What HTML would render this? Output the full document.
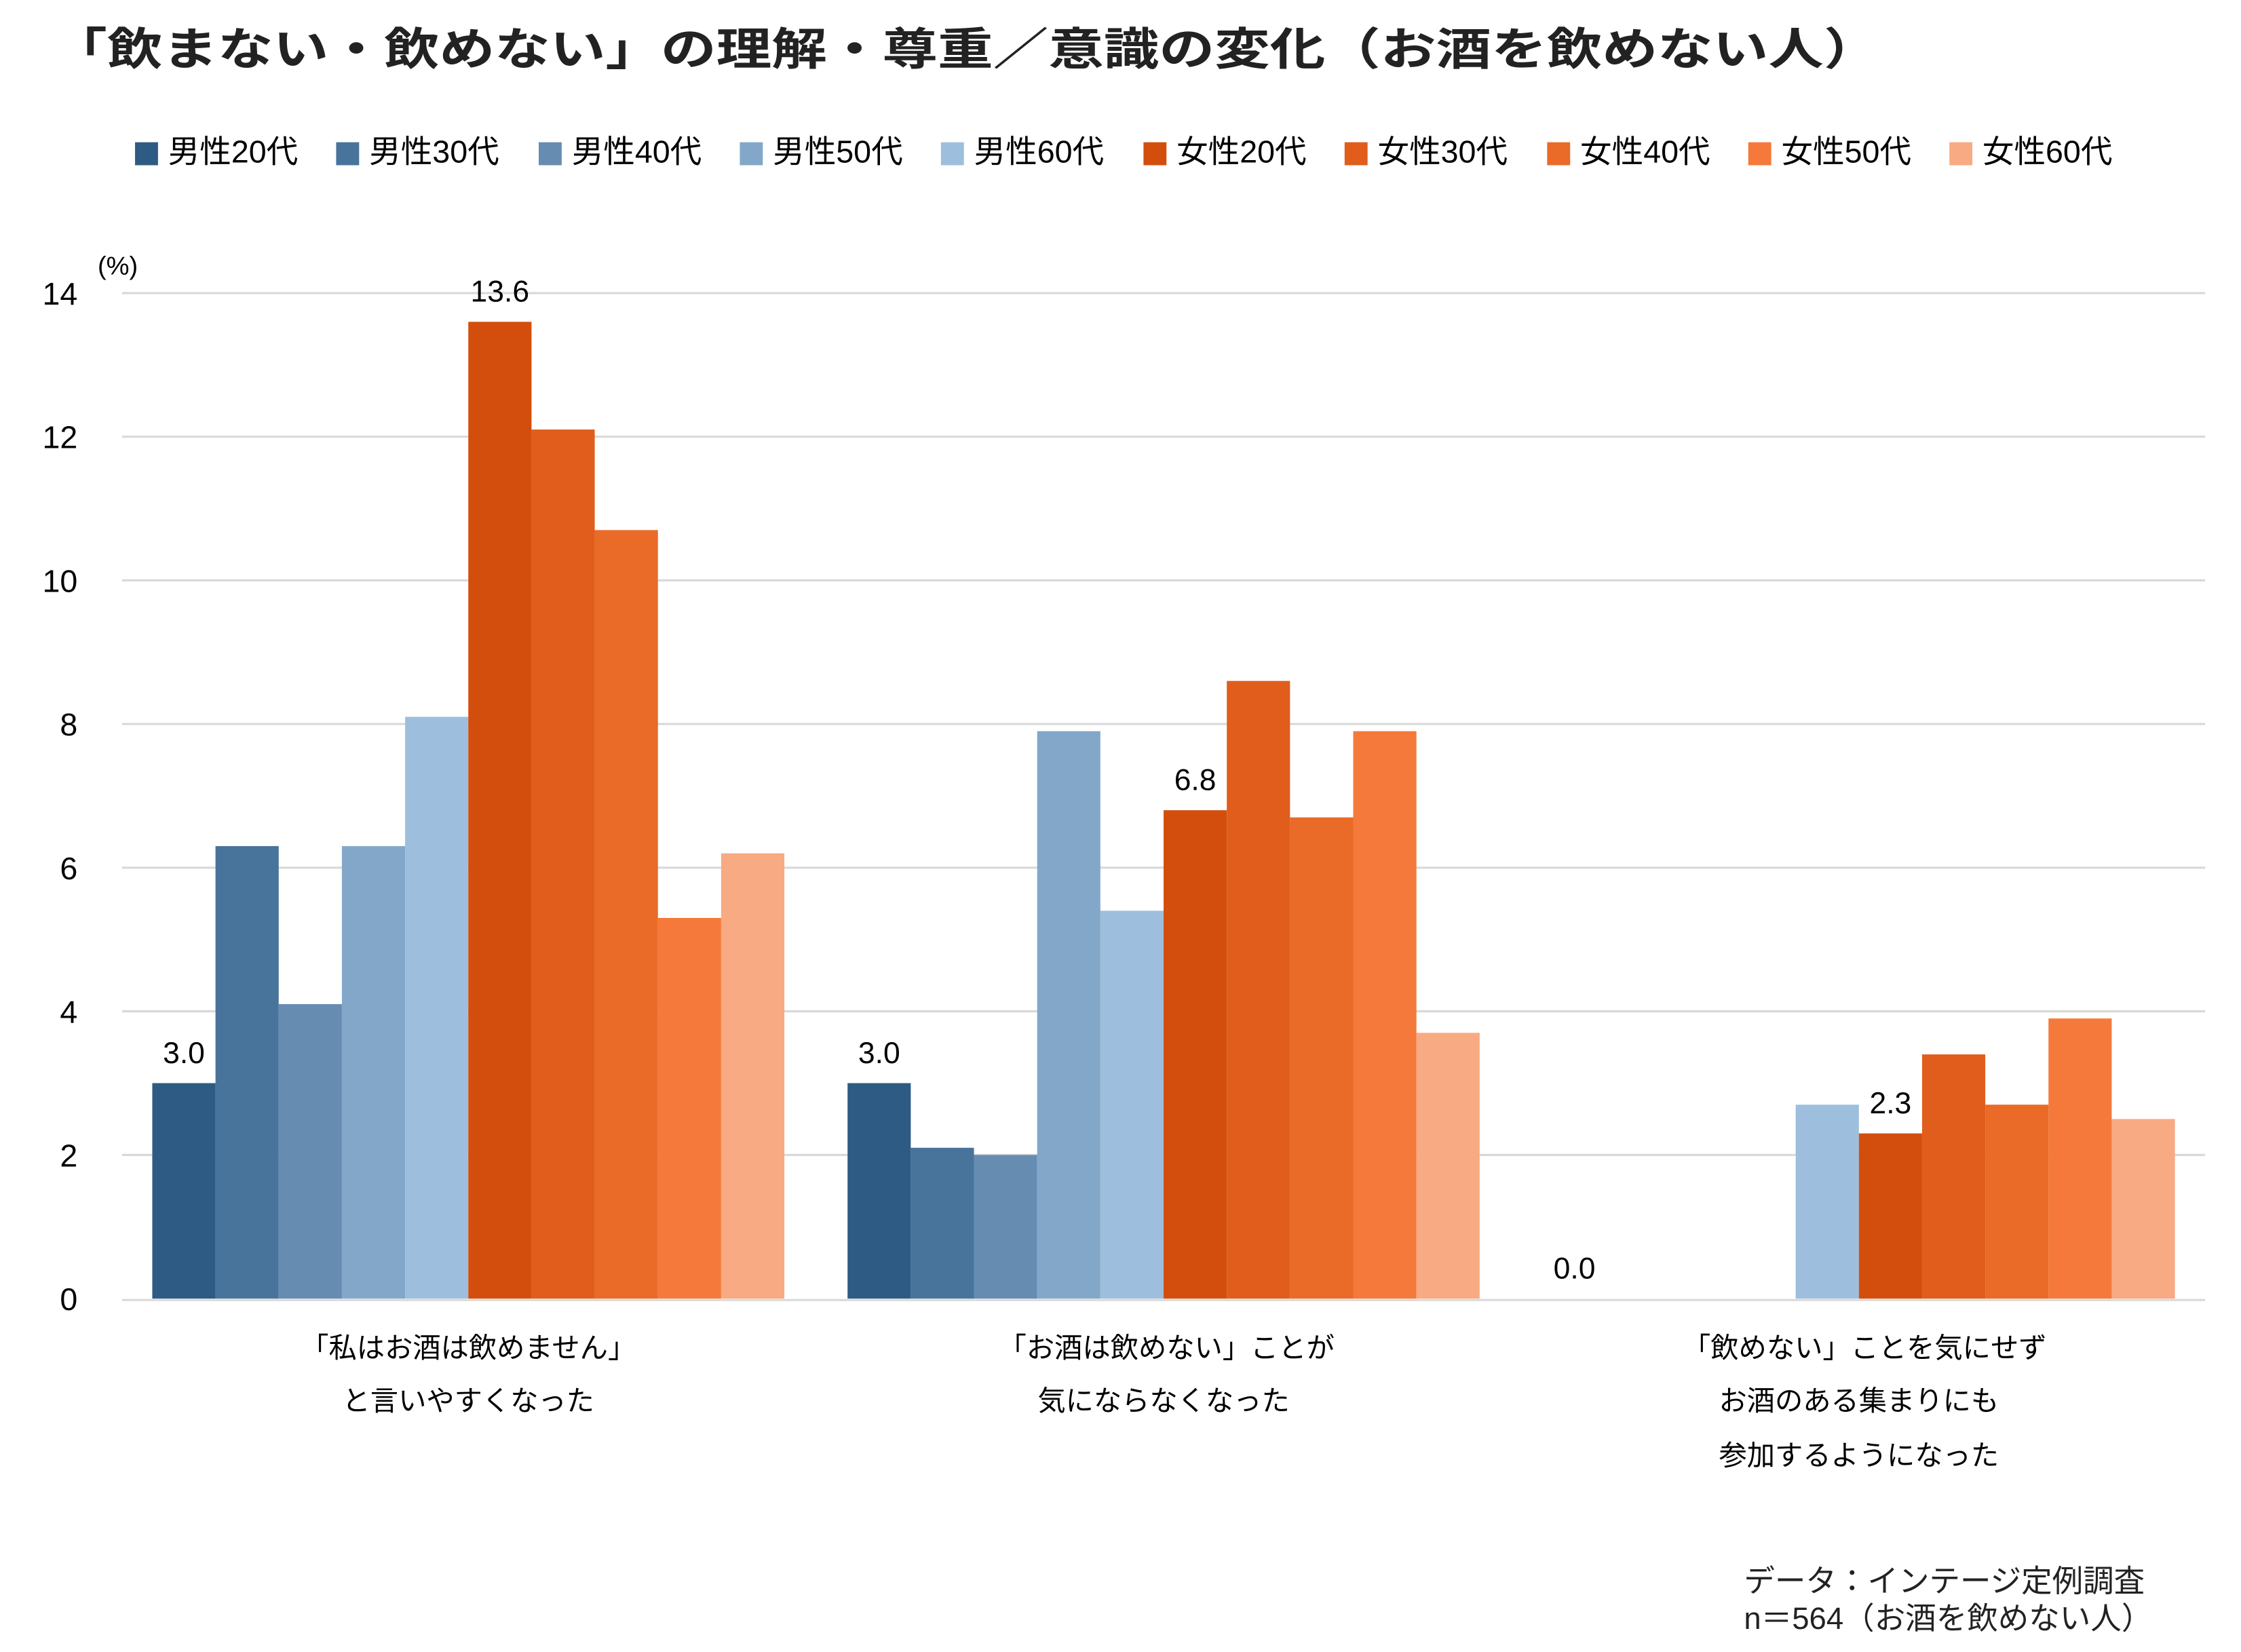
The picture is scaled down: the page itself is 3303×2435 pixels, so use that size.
<!DOCTYPE html>
<html><head><meta charset="utf-8"><style>
html,body{margin:0;padding:0;background:#fff;}
svg{display:block;}
text{font-family:"Liberation Sans","Noto Sans CJK JP",sans-serif;fill:#000;}
</style></head><body>
<svg width="3303" height="2435" viewBox="0 0 1560 1150" xmlns="http://www.w3.org/2000/svg">
<rect width="1560" height="1150" fill="#fff"/>
<text x="36" y="45" font-size="31" font-weight="bold" fill="#222" style="fill:#222" textLength="1272" lengthAdjust="spacingAndGlyphs">「飲まない・飲めない」の理解・尊重／意識の変化（お酒を飲めない人）</text>
<g font-size="22">
<rect x="94" y="99" width="16" height="16" fill="#2e5b84"/><text x="117" y="113">男性20代</text>
<rect x="234" y="99" width="16" height="16" fill="#48739a"/><text x="257" y="113">男性30代</text>
<rect x="375" y="99" width="16" height="16" fill="#668cb1"/><text x="398" y="113">男性40代</text>
<rect x="515" y="99" width="16" height="16" fill="#82a7c9"/><text x="538" y="113">男性50代</text>
<rect x="655" y="99" width="16" height="16" fill="#9dbfdd"/><text x="678" y="113">男性60代</text>
<rect x="796" y="99" width="16" height="16" fill="#d34e0d"/><text x="819" y="113">女性20代</text>
<rect x="936" y="99" width="16" height="16" fill="#e05d1c"/><text x="959" y="113">女性30代</text>
<rect x="1077" y="99" width="16" height="16" fill="#ea6a28"/><text x="1100" y="113">女性40代</text>
<rect x="1217" y="99" width="16" height="16" fill="#f5793a"/><text x="1240" y="113">女性50代</text>
<rect x="1357" y="99" width="16" height="16" fill="#f8aa82"/><text x="1380" y="113">女性60代</text>
</g>
<g stroke="#d9d9d9" stroke-width="1.5">
<line x1="85" x2="1535" y1="204" y2="204"/><line x1="85" x2="1535" y1="304" y2="304"/>
<line x1="85" x2="1535" y1="404" y2="404"/><line x1="85" x2="1535" y1="504" y2="504"/>
<line x1="85" x2="1535" y1="604" y2="604"/><line x1="85" x2="1535" y1="704" y2="704"/>
<line x1="85" x2="1535" y1="804" y2="804"/><line x1="85" x2="1535" y1="905" y2="905"/>
</g>
<g font-size="22" text-anchor="end">
<text x="54" y="212">14</text><text x="54" y="312">12</text><text x="54" y="412">10</text>
<text x="54" y="512">8</text><text x="54" y="612">6</text><text x="54" y="712">4</text>
<text x="54" y="812">2</text><text x="54" y="912">0</text>
</g>
<text x="68" y="191" font-size="18">(%)</text>
<g>
<rect x="106" y="754" width="44" height="150" fill="#2e5b84"/>
<rect x="150" y="589" width="44" height="315" fill="#48739a"/>
<rect x="194" y="699" width="44" height="205" fill="#668cb1"/>
<rect x="238" y="589" width="44" height="315" fill="#82a7c9"/>
<rect x="282" y="499" width="44" height="405" fill="#9dbfdd"/>
<rect x="326" y="224" width="44" height="680" fill="#d34e0d"/>
<rect x="370" y="299" width="44" height="605" fill="#e05d1c"/>
<rect x="414" y="369" width="44" height="535" fill="#ea6a28"/>
<rect x="458" y="639" width="44" height="265" fill="#f5793a"/>
<rect x="502" y="594" width="44" height="310" fill="#f8aa82"/>
<rect x="590" y="754" width="44" height="150" fill="#2e5b84"/>
<rect x="634" y="799" width="44" height="105" fill="#48739a"/>
<rect x="678" y="804" width="44" height="100" fill="#668cb1"/>
<rect x="722" y="509" width="44" height="395" fill="#82a7c9"/>
<rect x="766" y="634" width="44" height="270" fill="#9dbfdd"/>
<rect x="810" y="564" width="44" height="340" fill="#d34e0d"/>
<rect x="854" y="474" width="44" height="430" fill="#e05d1c"/>
<rect x="898" y="569" width="44" height="335" fill="#ea6a28"/>
<rect x="942" y="509" width="44" height="395" fill="#f5793a"/>
<rect x="986" y="719" width="44" height="185" fill="#f8aa82"/>
<rect x="1250" y="769" width="44" height="135" fill="#9dbfdd"/>
<rect x="1294" y="789" width="44" height="115" fill="#d34e0d"/>
<rect x="1338" y="734" width="44" height="170" fill="#e05d1c"/>
<rect x="1382" y="769" width="44" height="135" fill="#ea6a28"/>
<rect x="1426" y="709" width="44" height="195" fill="#f5793a"/>
<rect x="1470" y="779" width="44" height="125" fill="#f8aa82"/>
</g>
<g font-size="21" text-anchor="middle">
<text x="128" y="740">3.0</text>
<text x="348" y="210">13.6</text>
<text x="612" y="740">3.0</text>
<text x="832" y="550">6.8</text>
<text x="1316" y="775">2.3</text>
<text x="1096" y="890">0.0</text>
</g>
<g font-size="19.5" text-anchor="middle">
<text x="326" y="945">「私はお酒は飲めません」</text>
<text x="326" y="982">と言いやすくなった</text>
<text x="812" y="945">「お酒は飲めない」ことが</text>
<text x="810" y="982">気にならなくなった</text>
<text x="1298" y="945">「飲めない」ことを気にせず</text>
<text x="1294" y="982">お酒のある集まりにも</text>
<text x="1294" y="1020">参加するようになった</text>
</g>
<g font-size="21.5">
<text x="1214" y="1108" style="fill:#222">データ：インテージ定例調査</text>
<text x="1214" y="1134" style="fill:#222">n＝564（お酒を飲めない人）</text>
</g>
</svg>
</body></html>
